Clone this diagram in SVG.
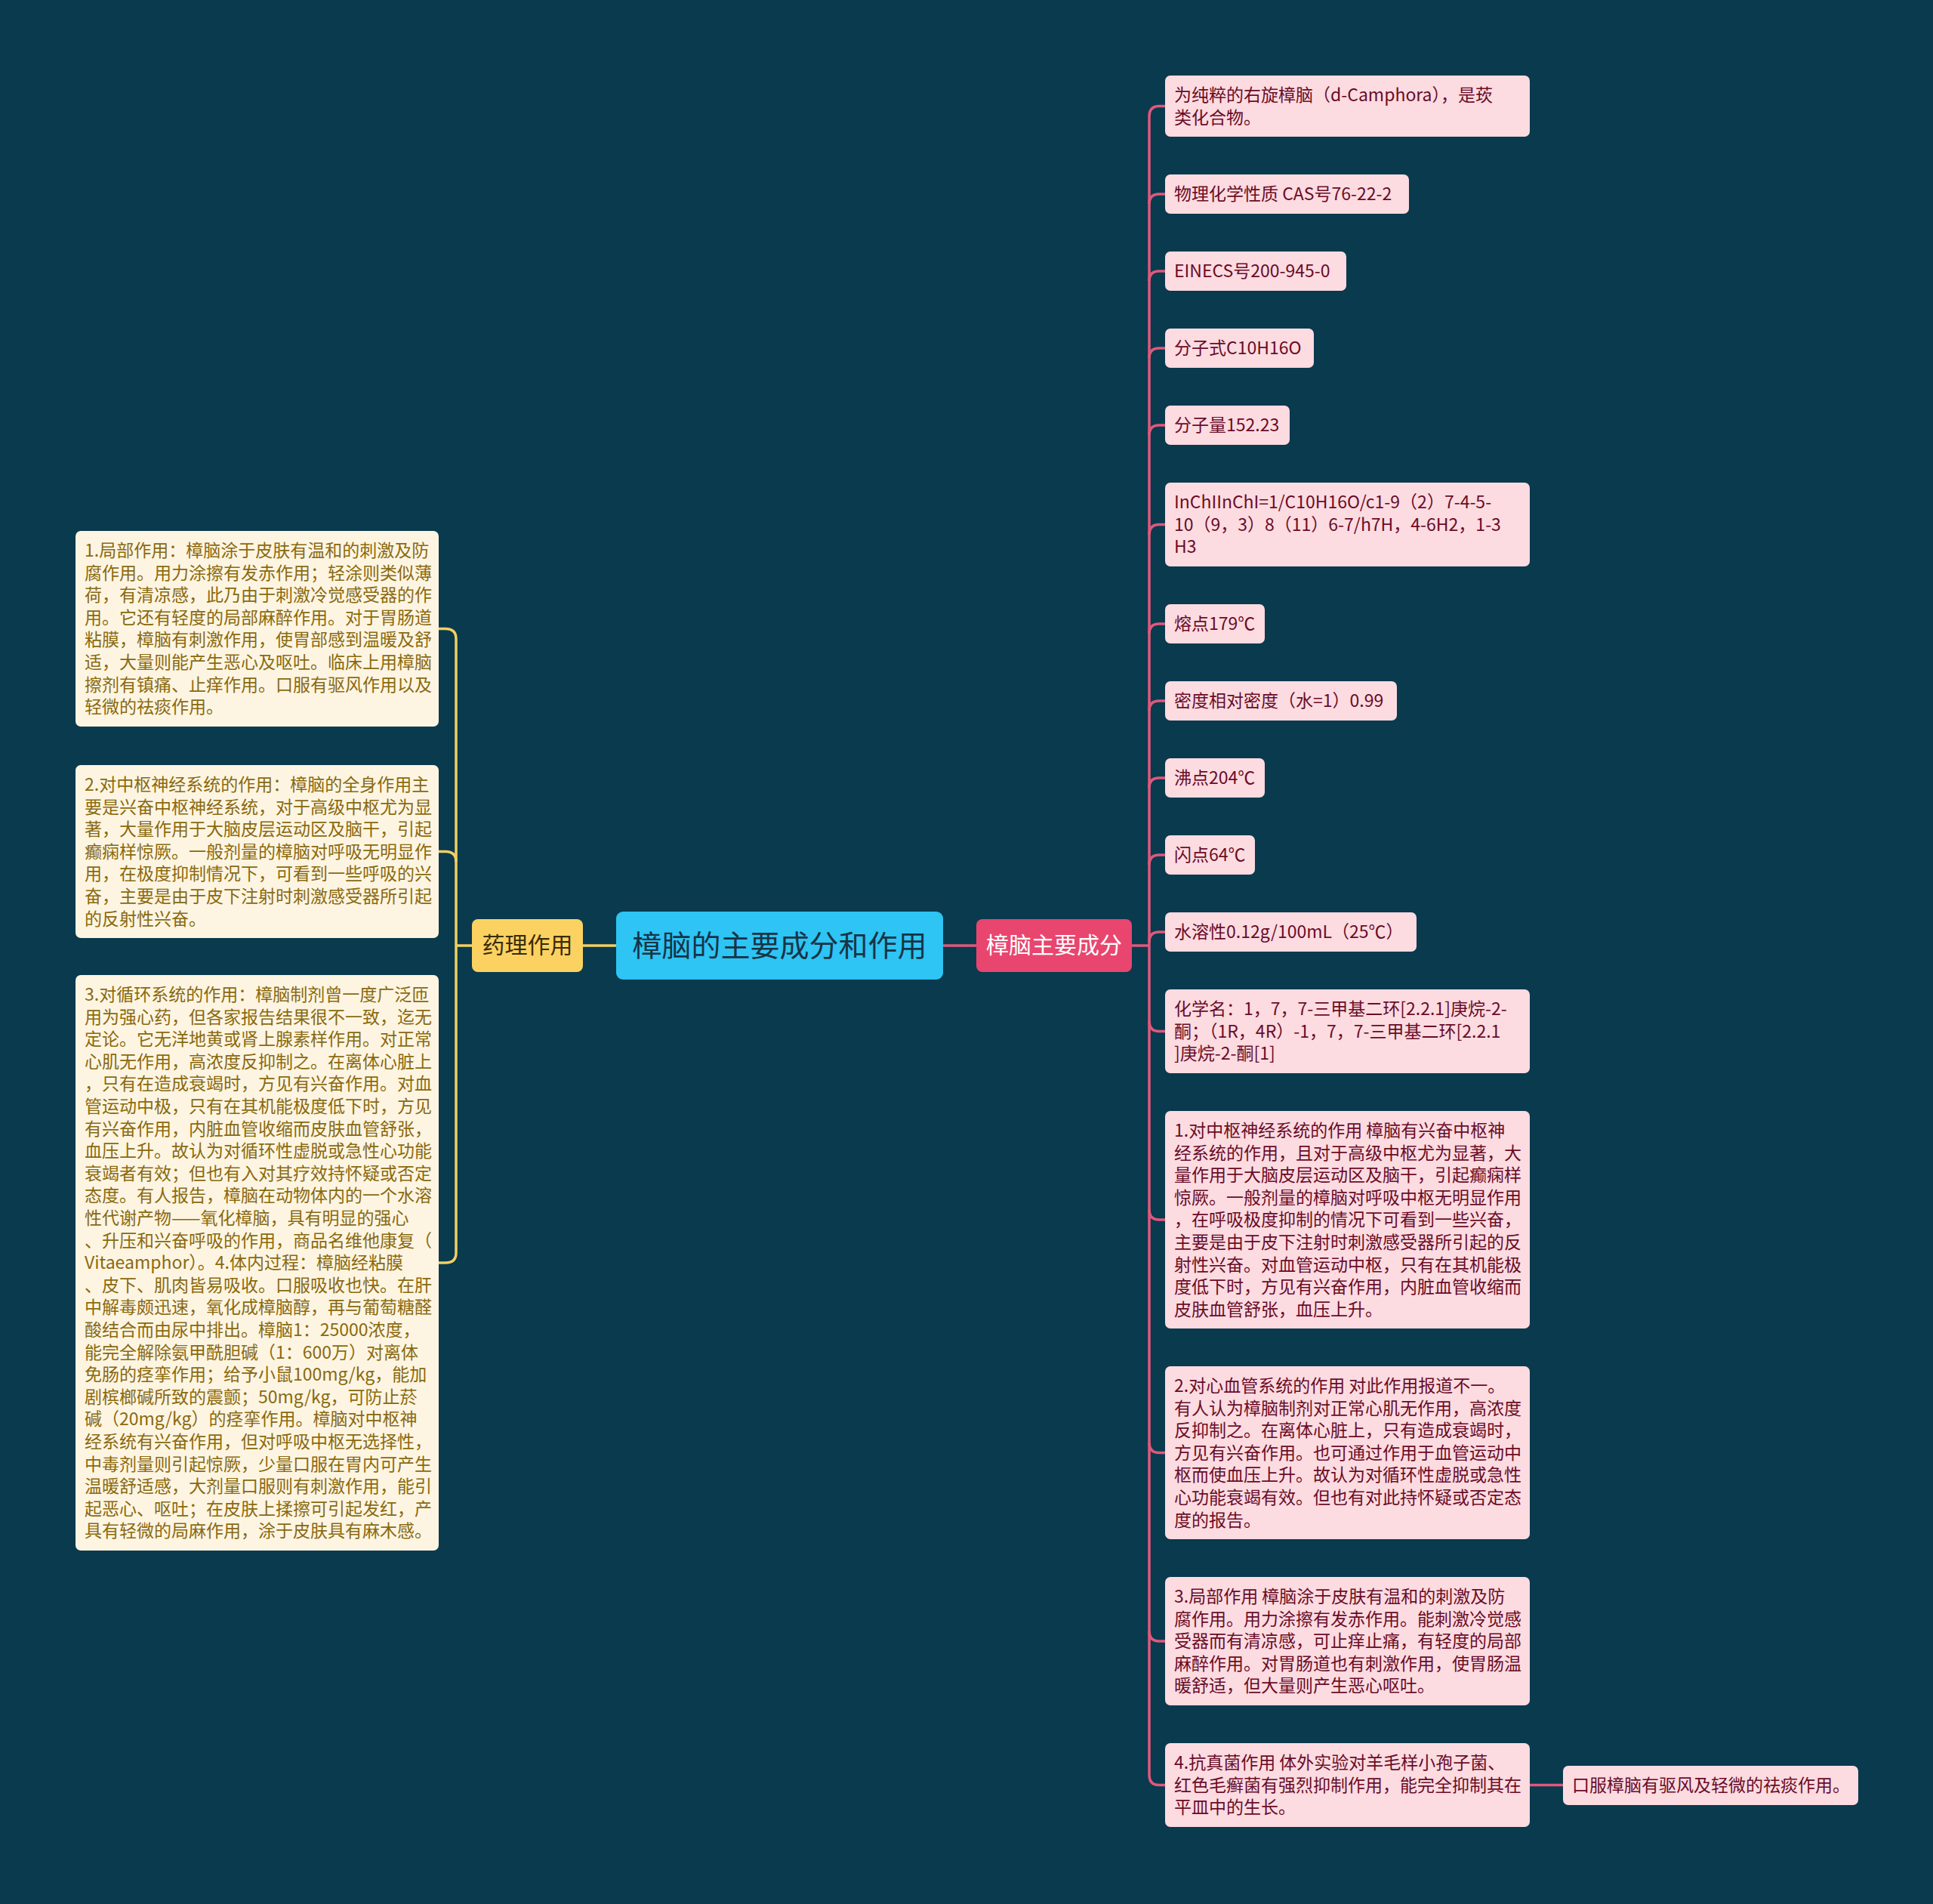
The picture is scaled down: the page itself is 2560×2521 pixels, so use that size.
<svg xmlns="http://www.w3.org/2000/svg" width="2560" height="2521" viewBox="0 0 2560 2521">
<style>
text{font-family:"Noto Sans CJK SC","Noto Sans",sans-serif}
.lbox{fill:#fdf5e1}
.ltxt{fill:#8a6910;font-size:23px}
.rbox{fill:#fcdbe1}
.rtxt{fill:#6a0c27;font-size:23px}
.lc{fill:none;stroke:#f2cf62;stroke-width:3.5}
.rc{fill:none;stroke:#e0587c;stroke-width:3.5}
</style>
<rect x="0" y="0" width="2560" height="2521" fill="#093a4e"/>
<g id="connectors">
<path class="lc" d="M816 1252 L772 1252"/>
<path class="lc" d="M625 1252 L604 1252"/>
<path class="lc" d="M604 846 L604 1659"/>
<path class="lc" d="M604 846 Q604 832.5 590 832.5 L581 832.5"/>
<path class="lc" d="M604 1141 Q604 1127.5 590 1127.5 L581 1127.5"/>
<path class="lc" d="M604 1659 Q604 1672 590 1672 L581 1672"/>
<path class="rc" d="M1249 1252 L1293 1252"/>
<path class="rc" d="M1499 1252 L1522 1252"/>
<path class="rc" d="M1522 154 L1522 2350"/>
<path class="rc" d="M1522 154 Q1522 140.5 1535 140.5 L1543 140.5"/>
<path class="rc" d="M1522 270 Q1522 257 1535 257 L1543 257"/>
<path class="rc" d="M1522 372 Q1522 359 1535 359 L1543 359"/>
<path class="rc" d="M1522 474 Q1522 461 1535 461 L1543 461"/>
<path class="rc" d="M1522 576 Q1522 563 1535 563 L1543 563"/>
<path class="rc" d="M1522 708 Q1522 694.5 1535 694.5 L1543 694.5"/>
<path class="rc" d="M1522 839 Q1522 826 1535 826 L1543 826"/>
<path class="rc" d="M1522 941 Q1522 928 1535 928 L1543 928"/>
<path class="rc" d="M1522 1043 Q1522 1030 1535 1030 L1543 1030"/>
<path class="rc" d="M1522 1145 Q1522 1132 1535 1132 L1543 1132"/>
<path class="rc" d="M1522 1247 Q1522 1234 1535 1234 L1543 1234"/>
<path class="rc" d="M1522 1352 Q1522 1365.5 1535 1365.5 L1543 1365.5"/>
<path class="rc" d="M1522 1602 Q1522 1615 1535 1615 L1543 1615"/>
<path class="rc" d="M1522 1910 Q1522 1923.5 1535 1923.5 L1543 1923.5"/>
<path class="rc" d="M1522 2160 Q1522 2173 1535 2173 L1543 2173"/>
<path class="rc" d="M1522 2350 Q1522 2363.5 1535 2363.5 L1543 2363.5"/>
<path class="rc" d="M2026 2363.5 L2070 2363.5"/>
</g>
<g id="root">
<rect x="816" y="1207" width="433" height="90" rx="9" fill="#2ec4f3"/>
<text x="1032.5" y="1266" font-size="39" text-anchor="middle" fill="#173447">樟脑的主要成分和作用</text>
</g>
<g id="yaoli">
<rect x="625" y="1217" width="147" height="70" rx="8" fill="#fbd261"/>
<text x="698.5" y="1262" font-size="30" text-anchor="middle" fill="#3a2b06">药理作用</text>
</g>
<g id="zhuyao">
<rect x="1293" y="1217" width="206" height="70" rx="8" fill="#e8466f"/>
<text x="1396" y="1262" font-size="30" text-anchor="middle" fill="#ffffff">樟脑主要成分</text>
</g>
<g id="L1">
<rect class="lbox" x="100" y="703" width="481" height="259" rx="7"/>
<text class="ltxt"><tspan x="112" y="737">1.局部作用：樟脑涂于皮肤有温和的刺激及防</tspan><tspan x="112" y="766.6">腐作用。用力涂擦有发赤作用；轻涂则类似薄</tspan><tspan x="112" y="796.2">荷，有清凉感，此乃由于刺激冷觉感受器的作</tspan><tspan x="112" y="825.8">用。它还有轻度的局部麻醉作用。对于胃肠道</tspan><tspan x="112" y="855.4">粘膜，樟脑有刺激作用，使胃部感到温暖及舒</tspan><tspan x="112" y="885">适，大量则能产生恶心及呕吐。临床上用樟脑</tspan><tspan x="112" y="914.6">擦剂有镇痛、止痒作用。口服有驱风作用以及</tspan><tspan x="112" y="944.2">轻微的祛痰作用。</tspan></text>
</g>
<g id="L2">
<rect class="lbox" x="100" y="1013" width="481" height="229" rx="7"/>
<text class="ltxt"><tspan x="112" y="1047">2.对中枢神经系统的作用：樟脑的全身作用主</tspan><tspan x="112" y="1076.6">要是兴奋中枢神经系统，对于高级中枢尤为显</tspan><tspan x="112" y="1106.2">著，大量作用于大脑皮层运动区及脑干，引起</tspan><tspan x="112" y="1135.8">癫痫样惊厥。一般剂量的樟脑对呼吸无明显作</tspan><tspan x="112" y="1165.4">用，在极度抑制情况下，可看到一些呼吸的兴</tspan><tspan x="112" y="1195">奋，主要是由于皮下注射时刺激感受器所引起</tspan><tspan x="112" y="1224.6">的反射性兴奋。</tspan></text>
</g>
<g id="L3">
<rect class="lbox" x="100" y="1291" width="481" height="762" rx="7"/>
<text class="ltxt"><tspan x="112" y="1325">3.对循环系统的作用：樟脑制剂曾一度广泛匝</tspan><tspan x="112" y="1354.6">用为强心药，但各家报告结果很不一致，迄无</tspan><tspan x="112" y="1384.2">定论。它无洋地黄或肾上腺素样作用。对正常</tspan><tspan x="112" y="1413.8">心肌无作用，高浓度反抑制之。在离体心脏上</tspan><tspan x="112" y="1443.4">，只有在造成衰竭时，方见有兴奋作用。对血</tspan><tspan x="112" y="1473">管运动中极，只有在其机能极度低下时，方见</tspan><tspan x="112" y="1502.6">有兴奋作用，内脏血管收缩而皮肤血管舒张，</tspan><tspan x="112" y="1532.2">血压上升。故认为对循环性虚脱或急性心功能</tspan><tspan x="112" y="1561.8">衰竭者有效；但也有入对其疗效持怀疑或否定</tspan><tspan x="112" y="1591.4">态度。有人报告，樟脑在动物体内的一个水溶</tspan><tspan x="112" y="1621">性代谢产物——氧化樟脑，具有明显的强心</tspan><tspan x="112" y="1650.6">、升压和兴奋呼吸的作用，商品名维他康复（</tspan><tspan x="112" y="1680.2">Vitaeamphor）。4.体内过程：樟脑经粘膜</tspan><tspan x="112" y="1709.8">、皮下、肌肉皆易吸收。口服吸收也快。在肝</tspan><tspan x="112" y="1739.4">中解毒颇迅速，氧化成樟脑醇，再与葡萄糖醛</tspan><tspan x="112" y="1769">酸结合而由尿中排出。樟脑1：25000浓度，</tspan><tspan x="112" y="1798.6">能完全解除氨甲酰胆碱（1：600万）对离体</tspan><tspan x="112" y="1828.2">免肠的痉挛作用；给予小鼠100mg/kg，能加</tspan><tspan x="112" y="1857.8">剧槟榔碱所致的震颤；50mg/kg，可防止菸</tspan><tspan x="112" y="1887.4">碱（20mg/kg）的痉挛作用。樟脑对中枢神</tspan><tspan x="112" y="1917">经系统有兴奋作用，但对呼吸中枢无选择性，</tspan><tspan x="112" y="1946.6">中毒剂量则引起惊厥，少量口服在胃内可产生</tspan><tspan x="112" y="1976.2">温暖舒适感，大剂量口服则有刺激作用，能引</tspan><tspan x="112" y="2005.8">起恶心、呕吐；在皮肤上揉擦可引起发红，产</tspan><tspan x="112" y="2035.4">具有轻微的局麻作用，涂于皮肤具有麻木感。</tspan></text>
</g>
<g id="R1">
<rect class="rbox" x="1543" y="100" width="483" height="81" rx="7"/>
<text class="rtxt"><tspan x="1555" y="134">为纯粹的右旋樟脑（d-Camphora），是莰</tspan><tspan x="1555" y="163.6">类化合物。</tspan></text>
</g>
<g id="R2">
<rect class="rbox" x="1543" y="231" width="323" height="52" rx="7"/>
<text class="rtxt" x="1555" y="265">物理化学性质 CAS号76-22-2</text>
</g>
<g id="R3">
<rect class="rbox" x="1543" y="333" width="240" height="52" rx="7"/>
<text class="rtxt" x="1555" y="367">EINECS号200-945-0</text>
</g>
<g id="R4">
<rect class="rbox" x="1543" y="435" width="197" height="52" rx="7"/>
<text class="rtxt" x="1555" y="469">分子式C10H16O</text>
</g>
<g id="R5">
<rect class="rbox" x="1543" y="537" width="165" height="52" rx="7"/>
<text class="rtxt" x="1555" y="571">分子量152.23</text>
</g>
<g id="R6">
<rect class="rbox" x="1543" y="639" width="483" height="111" rx="7"/>
<text class="rtxt"><tspan x="1555" y="673">InChIInChI=1/C10H16O/c1-9（2）7-4-5-</tspan><tspan x="1555" y="702.6">10（9，3）8（11）6-7/h7H，4-6H2，1-3</tspan><tspan x="1555" y="732.2">H3</tspan></text>
</g>
<g id="R7">
<rect class="rbox" x="1543" y="800" width="132" height="52" rx="7"/>
<text class="rtxt" x="1555" y="834">熔点179℃</text>
</g>
<g id="R8">
<rect class="rbox" x="1543" y="902" width="307" height="52" rx="7"/>
<text class="rtxt" x="1555" y="936">密度相对密度（水=1）0.99</text>
</g>
<g id="R9">
<rect class="rbox" x="1543" y="1004" width="132" height="52" rx="7"/>
<text class="rtxt" x="1555" y="1038">沸点204℃</text>
</g>
<g id="R10">
<rect class="rbox" x="1543" y="1106" width="119" height="52" rx="7"/>
<text class="rtxt" x="1555" y="1140">闪点64℃</text>
</g>
<g id="R11">
<rect class="rbox" x="1543" y="1208" width="333" height="52" rx="7"/>
<text class="rtxt" x="1555" y="1242">水溶性0.12g/100mL（25℃）</text>
</g>
<g id="R12">
<rect class="rbox" x="1543" y="1310" width="483" height="111" rx="7"/>
<text class="rtxt"><tspan x="1555" y="1344">化学名：1，7，7-三甲基二环[2.2.1]庚烷-2-</tspan><tspan x="1555" y="1373.6">酮；（1R，4R）-1，7，7-三甲基二环[2.2.1</tspan><tspan x="1555" y="1403.2">]庚烷-2-酮[1]</tspan></text>
</g>
<g id="R13">
<rect class="rbox" x="1543" y="1471" width="483" height="288" rx="7"/>
<text class="rtxt"><tspan x="1555" y="1505">1.对中枢神经系统的作用 樟脑有兴奋中枢神</tspan><tspan x="1555" y="1534.6">经系统的作用，且对于高级中枢尤为显著，大</tspan><tspan x="1555" y="1564.2">量作用于大脑皮层运动区及脑干，引起癫痫样</tspan><tspan x="1555" y="1593.8">惊厥。一般剂量的樟脑对呼吸中枢无明显作用</tspan><tspan x="1555" y="1623.4">，在呼吸极度抑制的情况下可看到一些兴奋，</tspan><tspan x="1555" y="1653">主要是由于皮下注射时刺激感受器所引起的反</tspan><tspan x="1555" y="1682.6">射性兴奋。对血管运动中枢，只有在其机能极</tspan><tspan x="1555" y="1712.2">度低下时，方见有兴奋作用，内脏血管收缩而</tspan><tspan x="1555" y="1741.8">皮肤血管舒张，血压上升。</tspan></text>
</g>
<g id="R14">
<rect class="rbox" x="1543" y="1809" width="483" height="229" rx="7"/>
<text class="rtxt"><tspan x="1555" y="1843">2.对心血管系统的作用 对此作用报道不一。</tspan><tspan x="1555" y="1872.6">有人认为樟脑制剂对正常心肌无作用，高浓度</tspan><tspan x="1555" y="1902.2">反抑制之。在离体心脏上，只有造成衰竭时，</tspan><tspan x="1555" y="1931.8">方见有兴奋作用。也可通过作用于血管运动中</tspan><tspan x="1555" y="1961.4">枢而使血压上升。故认为对循环性虚脱或急性</tspan><tspan x="1555" y="1991">心功能衰竭有效。但也有对此持怀疑或否定态</tspan><tspan x="1555" y="2020.6">度的报告。</tspan></text>
</g>
<g id="R15">
<rect class="rbox" x="1543" y="2088" width="483" height="170" rx="7"/>
<text class="rtxt"><tspan x="1555" y="2122">3.局部作用 樟脑涂于皮肤有温和的刺激及防</tspan><tspan x="1555" y="2151.6">腐作用。用力涂擦有发赤作用。能刺激冷觉感</tspan><tspan x="1555" y="2181.2">受器而有清凉感，可止痒止痛，有轻度的局部</tspan><tspan x="1555" y="2210.8">麻醉作用。对胃肠道也有刺激作用，使胃肠温</tspan><tspan x="1555" y="2240.4">暖舒适，但大量则产生恶心呕吐。</tspan></text>
</g>
<g id="R16">
<rect class="rbox" x="1543" y="2308" width="483" height="111" rx="7"/>
<text class="rtxt"><tspan x="1555" y="2342">4.抗真菌作用 体外实验对羊毛样小孢子菌、</tspan><tspan x="1555" y="2371.6">红色毛癣菌有强烈抑制作用，能完全抑制其在</tspan><tspan x="1555" y="2401.2">平皿中的生长。</tspan></text>
</g>
<g id="R17">
<rect class="rbox" x="2070" y="2338" width="391" height="52" rx="7"/>
<text class="rtxt" x="2082" y="2372">口服樟脑有驱风及轻微的祛痰作用。</text>
</g>
</svg>
